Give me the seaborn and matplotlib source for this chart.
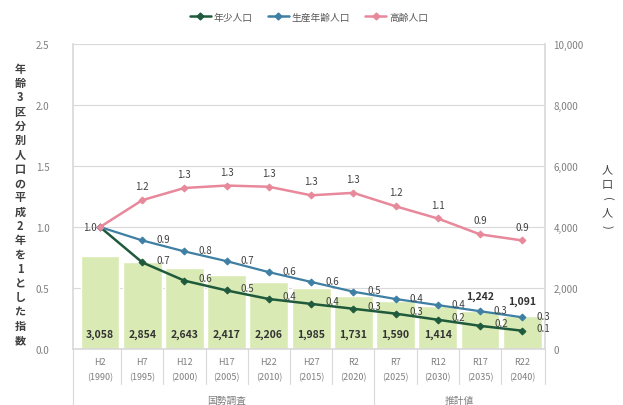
import matplotlib
matplotlib.use("Agg")
import matplotlib.pyplot as plt
import matplotlib.transforms as mtransforms
from matplotlib.lines import Line2D
import seaborn as sns
import pandas as pd

# ---- data -------------------------------------------------------------
eras = ["H2", "H7", "H12", "H17", "H22", "H27", "R2", "R7", "R12", "R17", "R22"]
years = ["1990", "1995", "2000", "2005", "2010", "2015", "2020", "2025", "2030", "2035", "2040"]
total_pop = [3058, 2854, 2643, 2417, 2206, 1985, 1731, 1590, 1414, 1242, 1091]
youth_idx = [1.00, 0.71, 0.56, 0.48, 0.41, 0.37, 0.33, 0.29, 0.24, 0.19, 0.15]
working_idx = [1.00, 0.89, 0.80, 0.72, 0.63, 0.55, 0.47, 0.41, 0.36, 0.31, 0.26]
elderly_idx = [1.00, 1.22, 1.32, 1.34, 1.33, 1.26, 1.28, 1.17, 1.07, 0.94, 0.89]
series_names = ["年少人口", "生産年齢人口", "高齢人口"]
group_names = ["国勢調査", "推計値"]
n_census = 7
left_label = "年齢3区分別人口の平成2年を1とした指数"
right_label = "人口(人)"

# ---- style ------------------------------------------------------------
sns.set_theme(style="white")
plt.rcParams["font.family"] = ["Noto Sans CJK JP", "DejaVu Sans"]

GRAY = "#7f7f7f"
EDGE = "#d9d9d9"
BAR = "#d9eab4"
C_YOUTH = "#1f5a3c"
C_WORK = "#3e7fa3"
C_OLD = "#e8889b"

fig = plt.figure(figsize=(6.23, 4.06), dpi=100)
fig.patch.set_facecolor("white")
ax = fig.add_axes([0.1172, 0.1379, 0.7576, 0.7512])
ax2 = ax.twinx()
ax.set_zorder(ax2.get_zorder() + 1)
ax.patch.set_visible(False)

# ---- bars: total population (right axis) ------------------------------
cats = [f"{e}\n({y})" for e, y in zip(eras, years)]
df_bar = pd.DataFrame({"cat": cats, "pop": total_pop})
sns.barplot(data=df_bar, x="cat", y="pop", color=BAR, saturation=1,
            width=0.92, ax=ax2, zorder=1)
ax2.set_ylim(0, 10000)
ax2.set_yticks(range(0, 10001, 2000))
ax2.set_yticklabels([f"{v:,}" for v in range(0, 10001, 2000)])
ax2.grid(axis="y", color=EDGE, lw=0.8)
ax2.set_axisbelow(True)
ax2.set_ylabel("")
ax2.tick_params(axis="y", length=0, pad=6, labelsize=7, labelcolor=GRAY)

for i, v in enumerate(total_pop):
    base = 0 if v > 1300 else v
    ax2.annotate(f"{v:,}", xy=(i, base), xytext=(0, 11), textcoords="offset points",
                 ha="center", va="center", fontsize=7.5, fontweight="bold",
                 color="#333333", zorder=5)

# ---- lines: index relative to 1990 (left axis) ------------------------
pos = list(range(len(eras)))
for vals, col, lw in [(youth_idx, C_YOUTH, 1.8), (working_idx, C_WORK, 1.6),
                      (elderly_idx, C_OLD, 1.8)]:
    sns.lineplot(x=pos, y=vals, ax=ax, color=col, lw=lw, marker="D",
                 markersize=3.5, markeredgecolor=col, markerfacecolor=col)

for i in range(1, len(pos)):
    ax.annotate(f"{elderly_idx[i]:.1f}", xy=(i, elderly_idx[i]), xytext=(0, 10),
                textcoords="offset points", ha="center", va="center",
                fontsize=7, color="#404040")
    ax.annotate(f"{working_idx[i]:.1f}", xy=(i, working_idx[i]), xytext=(15, 1),
                textcoords="offset points", ha="center", va="center",
                fontsize=7, color="#404040", annotation_clip=False)
    ax.annotate(f"{youth_idx[i]:.1f}", xy=(i, youth_idx[i]), xytext=(15, 2),
                textcoords="offset points", ha="center", va="center",
                fontsize=7, color="#404040", annotation_clip=False)
ax.annotate("1.0", xy=(0, 1.0), xytext=(-7, 0), textcoords="offset points",
            ha="center", va="center", fontsize=7, color="#404040")

ax.set_ylim(0, 2.5)
ax.set_yticks([0, 0.5, 1.0, 1.5, 2.0, 2.5])
ax.set_yticklabels([f"{v:.1f}" for v in [0, 0.5, 1.0, 1.5, 2.0, 2.5]])
ax.tick_params(axis="y", length=0, pad=17, labelsize=7, labelcolor=GRAY)
ax.set_xlim(-0.64, 10.54)
ax.set_xticks(pos)
ax.set_xticklabels(cats)
ax.tick_params(axis="x", length=0, pad=6, labelsize=6.5, labelcolor=GRAY)
for lbl in ax.get_xticklabels():
    lbl.set_linespacing(1.85)
ax.set_xlabel("")
ax.set_ylabel("")

for a in (ax, ax2):
    for side in ("top", "left", "right", "bottom"):
        a.spines[side].set_visible(False)
for side in ("bottom", "left", "right"):
    ax.spines[side].set_visible(True)
    ax.spines[side].set_color(EDGE)

# ---- category separators and group labels -----------------------------
trans = mtransforms.blended_transform_factory(ax.transData, ax.transAxes)
xl = ax.get_xlim()
for x in [xl[0]] + [i + 0.5 for i in range(len(eras) - 1)] + [xl[1]]:
    y_end = -0.185 if x in (xl[0], n_census - 0.5) else -0.115
    ax.plot([x, x], [0, y_end], transform=trans, color=EDGE, lw=0.8, clip_on=False)
ax.text((n_census - 1) / 2, -0.167, group_names[0], transform=trans,
        ha="center", va="center", fontsize=7, color=GRAY)
ax.text((n_census + len(eras) - 1) / 2, -0.167, group_names[1], transform=trans,
        ha="center", va="center", fontsize=7, color=GRAY)

# ---- legend -----------------------------------------------------------
handles = [Line2D([], [], color=c, lw=1.8, marker="D", markersize=3.5)
           for c in (C_YOUTH, C_WORK, C_OLD)]
ax.legend(handles, series_names, loc="center", bbox_to_anchor=(0.5, 1.09),
          ncol=3, frameon=False, fontsize=7, handlelength=2.2,
          columnspacing=1.5, handletextpad=0.3, labelcolor="#595959")

# ---- axis titles, stacked vertically ---------------------------------
fig.text(20 / 623, 1 - 205 / 406, "\n".join(left_label), ha="center", va="center",
         fontsize=8, fontweight="bold", color="#404040", linespacing=1.13)

# right title: one glyph per row, brackets turned to run vertically
right_rows = [170, 185, 199, 213, 227]
for ch, ypx in zip(right_label, right_rows):
    rot = -90 if ch in "()" else 0
    fig.text(607 / 623, 1 - ypx / 406, ch, ha="center", va="center",
             fontsize=8, color="#404040", rotation=rot)

fig.savefig("out.png", dpi=100, facecolor="white")
